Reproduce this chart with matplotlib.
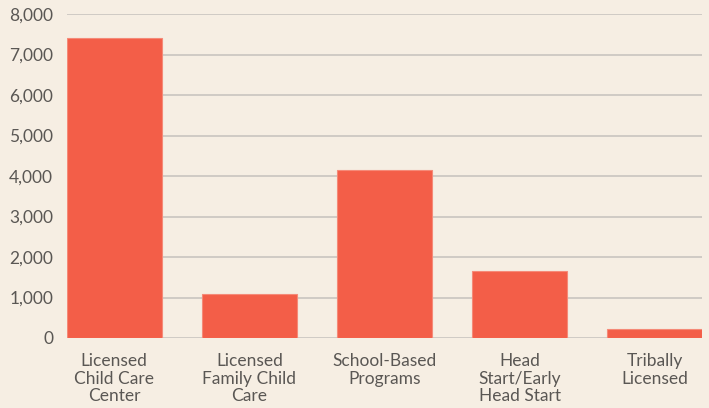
import matplotlib.pyplot as plt
import numpy as np

# Dados
categorias = ['Licensed\nChild Care\nCenter', 'Licensed\nFamily Child\nCare',
              'School-Based\nPrograms', 'Head\nStart/Early\nHead Start', 'Tribally\nLicensed']
valores = [7400, 1090, 4150, 1650, 220]
yticks = [0, 1000, 2000, 3000, 4000, 5000, 6000, 7000, 8000]

fundo = '#f6eee3'
cor_barra = '#f35e48'
cor_grade = '#c9c5bf'
cor_texto = '#5a5754'

plt.rcParams['font.family'] = ['Lato', 'DejaVu Sans']

fig = plt.figure(figsize=(7.09, 4.08), dpi=100, facecolor=fundo)
ax = fig.add_axes([67 / 709, 70 / 408, 635 / 709, 324 / 408], facecolor=fundo)

x = np.arange(len(categorias))
ax.bar(x, valores, width=0.7, color=cor_barra, edgecolor='#f58a78', linewidth=0.8, zorder=3)

ax.set_xlim(-0.35, len(categorias) - 0.65)
ax.set_ylim(0, 8000)
ax.set_yticks(yticks)
ax.set_yticklabels([f'{v:,}' for v in yticks])
ax.grid(axis='y', color=cor_grade, linewidth=1.2, zorder=0)
ax.set_xticks(x)
ax.set_xticklabels(categorias, linespacing=1.1)

for s in ax.spines.values():
    s.set_visible(False)
ax.tick_params(axis='both', length=0, labelsize=12.5, colors=cor_texto)
ax.tick_params(axis='y', pad=10)
ax.tick_params(axis='x', pad=11)

plt.savefig('out.png', dpi=100, facecolor=fundo)
plt.close()
